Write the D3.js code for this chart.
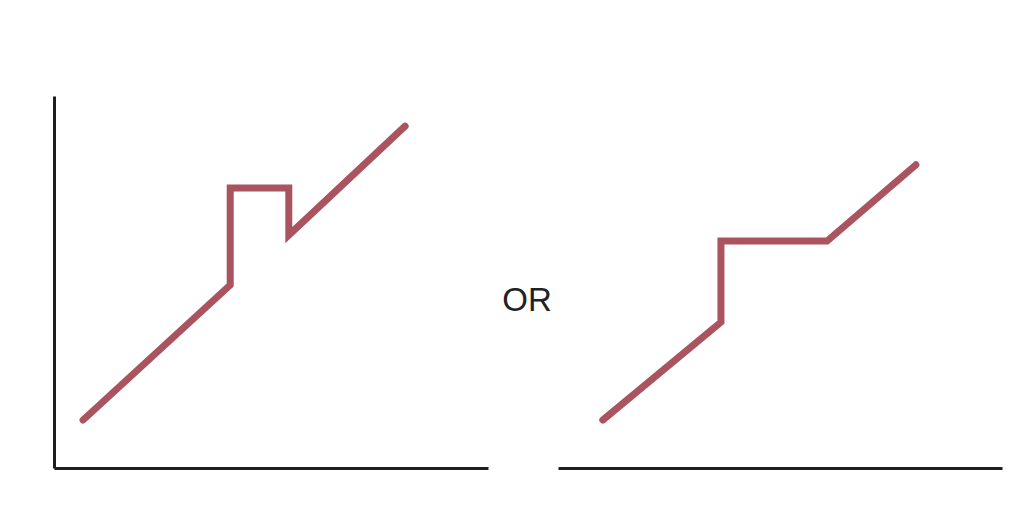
<!DOCTYPE html>
<html><head><meta charset="utf-8"><script src="https://d3js.org/d3.v7.min.js"></script></head>
<body style="margin:0;background:white;">
<script>
// two sketch panels: spike-then-drop vs. step-then-plateau
leftX  = [6.7, 40.6, 40.6, 54.1, 54.1, 80.9];
leftY  = [12.9, 49.2, 75.3, 75.3, 62.6, 91.9];
rightX = [10.1, 36.7, 36.7, 60.6, 80.6];
rightY = [12.9, 39.2, 61.0, 61.0, 81.5];
middleLabel = "OR";

W = 1012; H = 522;
lineColor = "#a9545e";

svg = d3.select("body").append("svg")
  .attr("width", W)
  .attr("height", H);

y = d3.scaleLinear().domain([0,100]).range([468,96]);
xl = d3.scaleLinear().domain([0,100]).range([54,488]);
xr = d3.scaleLinear().domain([0,100]).range([558,1002]);

drawPanel = function(xs, ys, x, withYAxis) {
  var pts = xs.map(function(d,i){ return [d, ys[i]]; });
  // axes (no ticks, just the bare lines)
  var gx = svg.append("g").attr("transform","translate(0," + y(0) + ")")
    .call(d3.axisBottom(x).tickValues([]).tickSizeOuter(0));
  gx.select(".domain").attr("stroke","#1e1e1e").attr("stroke-width",3);
  if (withYAxis) {
    var gy = svg.append("g").attr("transform","translate(" + x(0) + ",0)")
      .call(d3.axisLeft(y).tickValues([]).tickSizeOuter(0));
    gy.select(".domain").attr("stroke","#1e1e1e").attr("stroke-width",3);
  }
  svg.append("path")
    .datum(pts)
    .attr("fill","none")
    .attr("stroke",lineColor)
    .attr("stroke-width",7)
    .attr("stroke-linecap","round")
    .attr("stroke-linejoin","miter")
    .attr("d", d3.line().x(function(d){return x(d[0]);}).y(function(d){return y(d[1]);}));
};

drawPanel(leftX, leftY, xl, true);
drawPanel(rightX, rightY, xr, false);

svg.append("text")
  .attr("x", 527)
  .attr("y", 311)
  .attr("text-anchor","middle")
  .attr("font-family","Liberation Sans, Arial, sans-serif")
  .attr("font-size", 33)
  .attr("fill","#222")
  .text(middleLabel);
</script>
</body></html>
